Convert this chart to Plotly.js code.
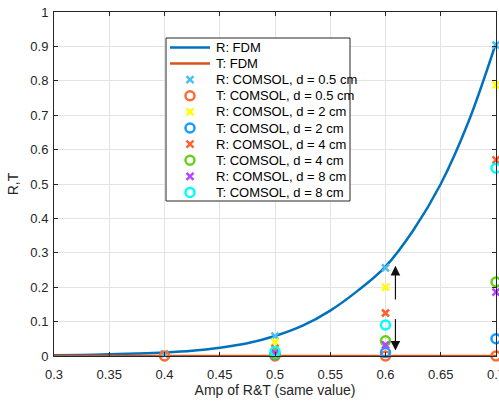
<!DOCTYPE html>
<html><head><meta charset="utf-8">
<script src="https://cdn.plot.ly/plotly-3.0.1.min.js"></script>
<style>html,body{margin:0;padding:0;background:#fff}#plot{width:499px;height:405px}</style>
</head><body><div id="plot"></div>
<script>
// FDM curves
const fdmX = [0.3,0.325,0.35,0.375,0.4,0.425,0.45,0.475,0.5,0.525,0.55,0.575,0.6,0.625,0.65,0.675,0.7];
const fdmR = [0.002,0.003,0.005,0.007,0.010,0.015,0.024,0.037,0.058,0.088,0.132,0.19,0.26,0.365,0.5,0.68,0.91];
const fdmT = [0,0,0,0,0,0,0,0,0,0,0,0,0,0,0,0,0];

// COMSOL points
const xD05 = [0.4,0.5,0.6,0.7];
const rD05 = [0.006,0.058,0.256,0.904];
const tD05 = [0,0,0,0];
const xOther = [0.5,0.6,0.7];
const rD2 = [0.04,0.20,0.788];
const tD2 = [0.004,0.01,0.05];
const rD4 = [0.022,0.125,0.57];
const tD4 = [0.006,0.044,0.215];
const rD8 = [0.008,0.032,0.186];
const tD8 = [0.013,0.09,0.546];

const seriesNames = ['R: FDM','T: FDM','R: COMSOL, d = 0.5 cm','T: COMSOL, d = 0.5 cm',
  'R: COMSOL, d = 2 cm','T: COMSOL, d = 2 cm','R: COMSOL, d = 4 cm','T: COMSOL, d = 4 cm',
  'R: COMSOL, d = 8 cm','T: COMSOL, d = 8 cm'];

// arrows [x, yFrom, yTo]
const arrowUp = [0.609, 0.16, 0.262];
const arrowDown = [0.609, 0.112, 0.016];

const FONT = 'Liberation Sans, Arial, Helvetica, sans-serif';
const xSym = (color) => ({symbol:'x-thin-open', size:7, color:color, line:{color:color, width:2.5}});
const oSym = (color) => ({symbol:'circle-open', size:9, color:color, line:{color:color, width:2.5}});

const styles = [
  {mode:'lines', line:{color:'#0072BD', width:2.5, shape:'spline'}},
  {mode:'lines', line:{color:'#D95319', width:2.5}},
  {mode:'markers', marker:xSym('#4DBEEE')},
  {mode:'markers', marker:oSym('#FF6A33')},
  {mode:'markers', marker:xSym('#FFFF00')},
  {mode:'markers', marker:oSym('#1A9BFF')},
  {mode:'markers', marker:xSym('#FF6132')},
  {mode:'markers', marker:oSym('#66D11A')},
  {mode:'markers', marker:xSym('#B347FF')},
  {mode:'markers', marker:oSym('#00FFFF')}
];
const xs = [fdmX, fdmX, xD05, xD05, xOther, xOther, xOther, xOther, xOther, xOther];
const ys = [fdmR, fdmT, rD05, tD05, rD2, tD2, rD4, tD4, rD8, tD8];

const traces = ys.map((y, i) => Object.assign({x:xs[i], y:y, name:seriesNames[i],
  cliponaxis:false, showlegend:false, hoverinfo:'skip'}, styles[i]));

// Custom legend (compact MATLAB-like spacing) drawn in a pixel-unit overlay
const W = 499, H = 405, L = 54, R = 3, T = 12, B = 49;
const leg = {left:166, top:38, right:350, bottom:201, row0:47.5, rowGap:16.1, symL:170, symR:210, textX:214};
traces.push({x:[leg.left, leg.right, leg.right, leg.left, leg.left],
  y:[leg.top, leg.top, leg.bottom, leg.bottom, leg.top], xaxis:'x2', yaxis:'y2',
  mode:'lines', fill:'toself', fillcolor:'#fff', line:{color:'#262626', width:1},
  showlegend:false, hoverinfo:'skip', cliponaxis:false});
const annotations = [];
seriesNames.forEach((name, i) => {
  const yy = leg.row0 + i * leg.rowGap;
  if (styles[i].mode === 'lines') {
    traces.push({x:[leg.symL, leg.symR], y:[yy, yy], xaxis:'x2', yaxis:'y2', mode:'lines',
      line:{color:styles[i].line.color, width:2.5}, showlegend:false, hoverinfo:'skip', cliponaxis:false});
  } else {
    traces.push({x:[(leg.symL + leg.symR) / 2], y:[yy], xaxis:'x2', yaxis:'y2', mode:'markers',
      marker:styles[i].marker, showlegend:false, hoverinfo:'skip', cliponaxis:false});
  }
  annotations.push({xref:'x2', yref:'y2', x:leg.textX, y:yy, text:name, showarrow:false,
    xanchor:'left', yanchor:'middle', font:{family:FONT, size:13, color:'#000'}});
});

annotations.push(
  {x:arrowUp[0], y:arrowUp[2], ax:arrowUp[0], ay:arrowUp[1], xref:'x', yref:'y', axref:'x', ayref:'y',
   showarrow:true, arrowhead:2, arrowsize:1.6, arrowwidth:1.2, arrowcolor:'#111', text:''},
  {x:arrowDown[0], y:arrowDown[2], ax:arrowDown[0], ay:arrowDown[1], xref:'x', yref:'y', axref:'x', ayref:'y',
   showarrow:true, arrowhead:2, arrowsize:1.6, arrowwidth:1.2, arrowcolor:'#111', text:''}
);

const axisCommon = {
  showline:true, linecolor:'#262626', linewidth:1, mirror:'ticks',
  ticks:'inside', ticklen:4, tickcolor:'#262626',
  showgrid:true, gridcolor:'#E3E3E3', gridwidth:1, zeroline:false,
  ticklabeloverflow:'allow',
  tickfont:{family:FONT, size:13, color:'#262626'}
};

const layout = {
  width:W, height:H,
  margin:{l:L, r:R, t:T, b:B},
  paper_bgcolor:'#fff', plot_bgcolor:'#fff', showlegend:false,
  font:{family:FONT, color:'#262626'},
  xaxis:Object.assign({}, axisCommon, {range:[0.3,0.7], tick0:0.3, dtick:0.05, ticklabelstandoff:6,
    title:{text:'Amp of R&T (same value)', font:{size:14, color:'#262626'}, standoff:4}}),
  yaxis:Object.assign({}, axisCommon, {range:[0,1], tick0:0, dtick:0.1, ticklabelstandoff:2,
    title:{text:'R,T', font:{size:14, color:'#262626'}, standoff:8}}),
  xaxis2:{overlaying:'x', range:[L, W - R], visible:false, fixedrange:true},
  yaxis2:{overlaying:'y', range:[H - B, T], visible:false, fixedrange:true},
  annotations:annotations
};

Plotly.newPlot('plot', traces, layout, {displayModeBar:false, staticPlot:true});
</script></body></html>
